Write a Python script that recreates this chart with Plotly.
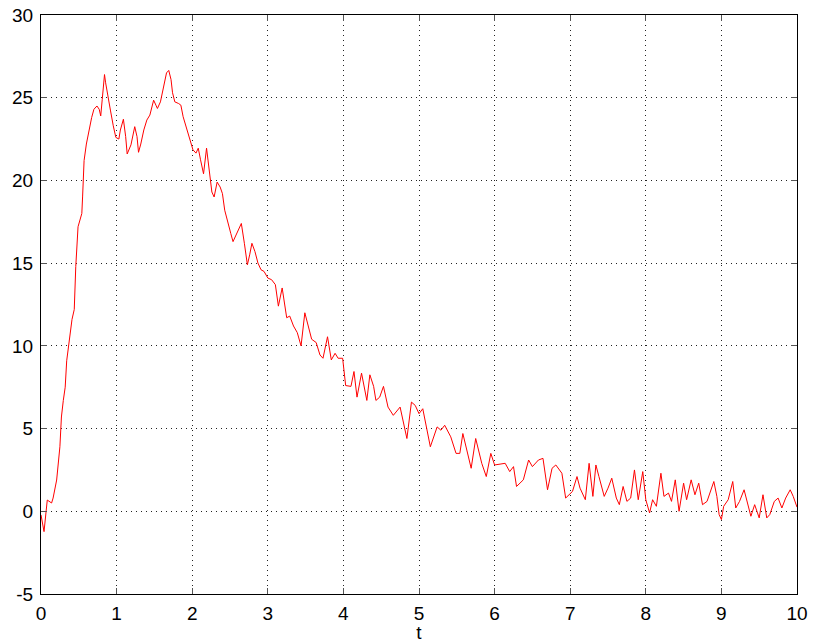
import plotly.graph_objects as go

t = [0.0, 0.04, 0.083, 0.14, 0.16, 0.207, 0.25, 0.27, 0.295, 0.32, 0.34, 0.37, 0.41, 0.44, 0.46, 0.49,
     0.51, 0.54, 0.55, 0.57, 0.60, 0.64, 0.67, 0.70, 0.74, 0.77, 0.79, 0.81, 0.84, 0.855, 0.89, 0.92,
     0.956, 0.99, 1.03, 1.05, 1.09, 1.12, 1.14, 1.17, 1.19, 1.24, 1.27, 1.29, 1.32, 1.36, 1.40, 1.44,
     1.46, 1.49, 1.52, 1.54, 1.58, 1.61, 1.64, 1.66, 1.69, 1.72, 1.74, 1.77, 1.82, 1.85, 1.88, 1.93,
     1.97, 2.01, 2.05, 2.08, 2.11, 2.15, 2.19, 2.23, 2.26, 2.29, 2.33, 2.37, 2.40, 2.43, 2.47, 2.51,
     2.54, 2.58, 2.62, 2.65, 2.69, 2.73, 2.76, 2.79, 2.83, 2.87, 2.91, 2.95, 3.00, 3.05, 3.10, 3.14,
     3.19, 3.25, 3.29, 3.34, 3.39, 3.44, 3.49, 3.54, 3.58, 3.64, 3.69, 3.73, 3.79, 3.84, 3.89, 3.93,
     3.99, 4.03, 4.10, 4.14, 4.18, 4.24, 4.31, 4.35, 4.40, 4.43, 4.48, 4.53, 4.59, 4.66, 4.75, 4.84,
     4.90, 4.95, 5.00, 5.05, 5.15, 5.24, 5.29, 5.34, 5.42, 5.49, 5.54, 5.58, 5.69, 5.75, 5.83, 5.89,
     5.95, 6.00, 6.14, 6.20, 6.25, 6.29, 6.38, 6.45, 6.50, 6.58, 6.64, 6.70, 6.76, 6.81, 6.89, 6.94,
     7.03, 7.09, 7.13, 7.20, 7.25, 7.30, 7.34, 7.38, 7.45, 7.50, 7.55, 7.61, 7.65, 7.70, 7.75, 7.80,
     7.85, 7.90, 7.96, 8.00, 8.05, 8.09, 8.14, 8.20, 8.24, 8.30, 8.34, 8.39, 8.44, 8.50, 8.54, 8.60,
     8.65, 8.70, 8.75, 8.81, 8.86, 8.90, 8.94, 8.97, 9.00, 9.03, 9.09, 9.15, 9.19, 9.24, 9.30, 9.35,
     9.39, 9.44, 9.50, 9.55, 9.60, 9.64, 9.70, 9.75, 9.80, 9.85, 9.91, 9.95, 10.0]

y = [-0.22, -1.23, 0.68, 0.5, 0.8, 1.89, 3.9, 5.7, 6.7, 7.5, 9.1, 10.2, 11.6, 12.2, 14.8, 17.2,
     17.6, 18.0, 19.0, 21.2, 22.2, 23.2, 23.8, 24.3, 24.5, 24.3, 23.9, 24.9, 26.4, 25.9, 24.9, 24.2,
     23.3, 22.6, 22.5, 23.05, 23.7, 22.65, 21.6, 21.9, 22.15, 23.25, 22.65, 21.7, 22.2, 23.05, 23.65, 23.95,
     24.35, 24.85, 24.55, 24.35, 24.75, 25.4, 26.1, 26.5, 26.65, 26.1, 25.3, 24.75, 24.65, 24.55, 23.85, 23.05,
     22.45, 21.85, 21.65, 21.95, 21.25, 20.4, 21.95, 20.4, 19.3, 19.0, 19.9, 19.6, 19.2, 18.2, 17.4, 16.8,
     16.3, 16.7, 17.1, 17.4, 16.2, 14.9, 15.5, 16.2, 15.7, 15.0, 14.6, 14.5, 14.1, 14.0, 13.7, 12.4,
     13.5, 11.7, 11.8, 11.2, 10.8, 10.0, 12.0, 11.0, 10.4, 10.2, 9.45, 9.25, 10.55, 9.15, 9.55, 9.25,
     9.25, 7.6, 7.55, 8.45, 6.9, 8.35, 6.7, 8.25, 7.55, 6.7, 6.9, 7.55, 6.3, 5.8, 6.3, 4.4,
     6.6, 6.4, 5.9, 6.2, 3.9, 5.1, 4.9, 5.2, 4.5, 3.5, 3.5, 4.7, 2.6, 4.4, 2.9, 2.1,
     3.5, 2.8, 2.9, 2.4, 2.7, 1.5, 1.9, 3.1, 2.7, 3.1, 3.2, 1.3, 2.6, 2.8, 2.3, 0.8,
     1.2, 2.1, 1.4, 0.7, 2.9, 0.9, 2.8, 2.1, 0.9, 1.4, 2.0, 0.8, 0.4, 1.5, 0.6, 0.8,
     2.5, 0.7, 2.4, 0.7, -0.1, 0.7, 0.3, 2.3, 0.9, 1.1, 0.6, 1.9, 0.0, 1.7, 0.7, 1.9,
     1.0, 1.7, 0.4, 0.6, 1.2, 1.8, 0.9, -0.2, -0.5, 0.3, 0.7, 1.8, 0.2, 0.6, 1.3, 0.4,
     -0.3, 0.4, -0.4, 1.0, -0.4, -0.2, 0.6, 0.8, 0.2, 0.8, 1.3, 0.9, 0.25]

x_ticks = [0, 1, 2, 3, 4, 5, 6, 7, 8, 9, 10]
y_ticks = [-5, 0, 5, 10, 15, 20, 25, 30]

FONT = "Liberation Sans, Arial, sans-serif"

fig = go.Figure()
fig.add_trace(go.Scatter(x=t, y=y, mode="lines", line=dict(color="#ff0000", width=1),
                         showlegend=False, hoverinfo="skip"))

axis_common = dict(
    showgrid=True, gridcolor="#222222", gridwidth=1, griddash="1px,4px",
    showline=True, linecolor="#000000", linewidth=1, mirror="ticks",
    ticks="inside", ticklen=6, tickcolor="#555555",
    zeroline=False, automargin=False,
    tickfont=dict(family=FONT, size=19, color="#000000"),
)

fig.update_xaxes(range=[0, 10], tickvals=x_ticks, ticktext=[str(v) for v in x_ticks],
                 ticklabelstandoff=2,
                 title=dict(text="t", font=dict(family=FONT, size=19, color="#000000"),
                            standoff=0),
                 **axis_common)
fig.update_yaxes(range=[-5, 30], tickvals=y_ticks, ticktext=[str(v) for v in y_ticks],
                 ticklabelstandoff=3, **axis_common)

fig.update_layout(
    width=814, height=643,
    margin=dict(l=41, r=17, t=15, b=49),
    plot_bgcolor="#ffffff", paper_bgcolor="#ffffff",
)

fig.write_html("out.html")
